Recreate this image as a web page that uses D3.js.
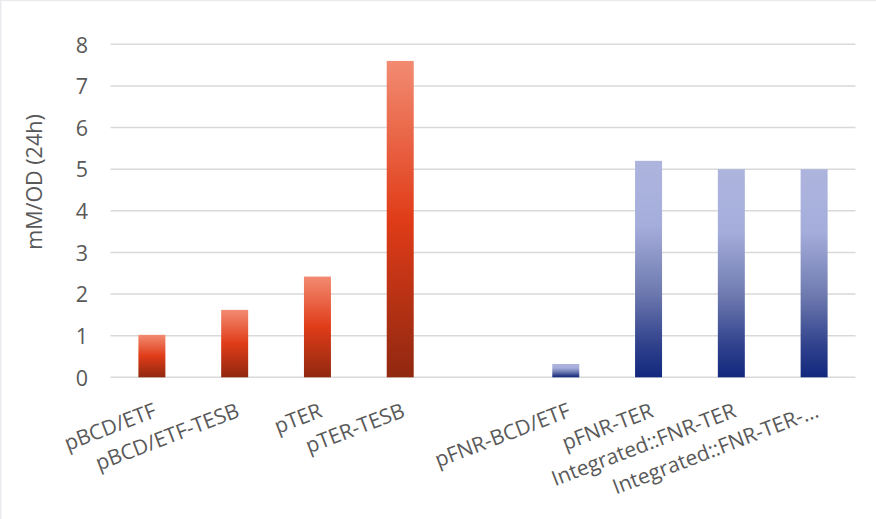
<!DOCTYPE html>
<html>
<head>
<meta charset="utf-8">
<script src="https://cdn.jsdelivr.net/npm/d3@7"></script>
<style>
  html, body { margin: 0; padding: 0; background: #fff; }
  svg { display: block; }
  text { font-family: "Segoe UI", "Open Sans", sans-serif; fill: #595959; }
</style>
</head>
<body>
<svg id="chart" width="876" height="519"></svg>
<script>
// Strain labels (one empty slot separates the plasmid and FNR groups)
const categories = ["pBCD/ETF", "pBCD/ETF-TESB", "pTER", "pTER-TESB", "",
  "pFNR-BCD/ETF", "pFNR-TER", "Integrated::FNR-TER", "Integrated::FNR-TER-…"];
// Product titre per OD at 24 h
const values = [1.02, 1.62, 2.42, 7.6, null, 0.32, 5.2, 5.0, 5.0];
// Which colour family each bar belongs to
const groups = ["red", "red", "red", "red", null, "blue", "blue", "blue", "blue"];
const yTicks = [0, 1, 2, 3, 4, 5, 6, 7, 8];
const yTitle = "mM/OD (24h)";

const svg = d3.select("#chart");
const W = 876, H = 519;
const plot = { left: 110.5, right: 855.5, top: 44.3, bottom: 377.3 };

// chart frame edge
svg.append("line").attr("x1", 0).attr("x2", W).attr("y1", 0.5).attr("y2", 0.5)
  .attr("stroke", "#e9ebef").attr("stroke-width", 1.5);
svg.append("line").attr("x1", 0.75).attr("x2", 0.75).attr("y1", 0).attr("y2", H)
  .attr("stroke", "#e9ebef").attr("stroke-width", 1.5);

const defs = svg.append("defs");
const gradStops = {
  red: [[0, "#f28b72"], [0.5, "#e03c18"], [1, "#902810"]],
  blue: [[0, "#adb5de"], [0.3, "#a5addb"], [0.6, "#6f7bb0"], [0.85, "#30418c"], [1, "#12287e"]]
};
Object.entries(gradStops).forEach(([name, stops]) => {
  const g = defs.append("linearGradient").attr("id", "grad-" + name)
    .attr("x1", 0).attr("y1", 0).attr("x2", 0).attr("y2", 1);
  stops.forEach(([o, c]) => g.append("stop").attr("offset", o).attr("stop-color", c));
});

const x = d3.scaleBand()
  .domain(d3.range(categories.length))
  .range([plot.left, plot.right])
  .paddingInner(0.674)
  .paddingOuter(0.337);

const y = d3.scaleLinear().domain([0, 8]).range([plot.bottom, plot.top]);

// horizontal gridlines
svg.append("g")
  .selectAll("line")
  .data(yTicks)
  .join("line")
  .attr("x1", plot.left).attr("x2", plot.right)
  .attr("y1", d => y(d)).attr("y2", d => y(d))
  .attr("stroke", "#d9d9d9").attr("stroke-width", 1.4);

// y axis labels
const yAxis = d3.axisLeft(y).tickValues(yTicks).tickSize(0).tickPadding(0);
const yg = svg.append("g").attr("transform", "translate(88,0)").call(yAxis);
yg.select(".domain").remove();
yg.selectAll("text")
  .style("font-size", "21.5px")
  .style("fill", "#595959")
  .attr("dy", "0.36em");

// bars
svg.append("g")
  .selectAll("rect")
  .data(values.map((v, i) => ({ v, i })).filter(d => d.v != null))
  .join("rect")
  .attr("x", d => x(d.i))
  .attr("width", x.bandwidth())
  .attr("y", d => y(d.v))
  .attr("height", d => y(0) - y(d.v))
  .attr("fill", d => "url(#grad-" + groups[d.i] + ")");

// rotated category labels
const xAxis = d3.axisBottom(x).tickSize(0).tickFormat(i => categories[i]);
const xg = svg.append("g").attr("transform", `translate(0,${plot.bottom})`).call(xAxis);
xg.select(".domain").remove();
xg.selectAll(".tick text")
  .style("font-size", "21px")
  .style("fill", "#595959")
  .attr("text-anchor", "end")
  .attr("x", 0).attr("y", 0).attr("dy", 0)
  .attr("transform", "translate(6,39) rotate(-21)");

// y axis title
svg.append("text")
  .attr("transform", "translate(42,182) rotate(-90)")
  .attr("text-anchor", "middle")
  .style("font-size", "21.5px")
  .text(yTitle);
</script>
</body>
</html>
